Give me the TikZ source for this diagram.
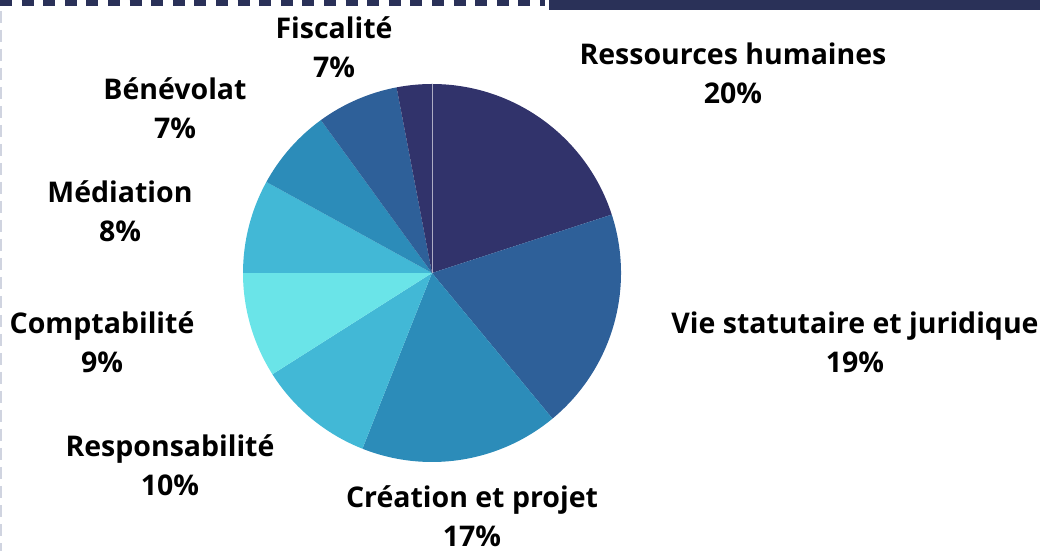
\documentclass[tikz,border=0pt]{standalone}
\usepackage{fontspec}
\setmainfont{Open Sans}
\usepackage{tikz}

\definecolor{navy}{HTML}{31336B}
\definecolor{steel}{HTML}{2E6099}
\definecolor{ocean}{HTML}{2C8CB9}
\definecolor{sky}{HTML}{42B8D6}
\definecolor{aqua}{HTML}{6AE4E8}
\definecolor{barblue}{HTML}{2A3158}
\definecolor{edgegray}{HTML}{D0D4E0}

\tikzset{
	label/.style={align=center,font=\bfseries\fontsize{28.5}{39}\selectfont,text=black}
}

\begin{document}
\begin{tikzpicture}[x=1pt,y=1pt]
		\useasboundingbox (0,0) rectangle (1040,551);

		% frame
		\fill[barblue] (549,541) rectangle (1040,551);
		\draw[barblue,line width=6pt,dash pattern=on 12pt off 9.6pt] (0,548) -- (545,548);
		\draw[edgegray,line width=2pt,dash pattern=on 12pt off 7pt] (1,540) -- (1,0);

		% pie
		\coordinate (c) at (432,278);
		\foreach \a/\b/\col in {90/18/navy, 18/-50.4/steel, -50.4/-111.6/ocean,
				-111.6/-147.6/sky, -147.6/-180/aqua, 180/151.2/sky,
				151.2/126/ocean, 126/100.8/steel, 100.8/90/navy}
			\fill[\col] (c) -- ++(\a:189) arc[start angle=\a, end angle=\b, radius=189] -- cycle;
		\draw[white!60!navy,line width=0.8pt] (c) -- ++(90:189);

		% labels
		\node[label] (fisc) at (334,504) {Fiscalité\\7\%};
		\node[label] (rh) at (733,478) {Ressources humaines\\20\%};
		\node[label] (benev) at (175,443) {Bénévolat\\7\%};
		\node[label] (med) at (120,340) {Médiation\\8\%};
		\node[label] (compta) at (102,209) {Comptabilité\\9\%};
		\node[label] (vie) at (855,209) {Vie statutaire et juridique\\19\%};
		\node[label] (resp) at (170,86) {Responsabilité\\10\%};
		\node[label] (crea) at (472,35) {Création et projet\\17\%};
\end{tikzpicture}
\end{document}
